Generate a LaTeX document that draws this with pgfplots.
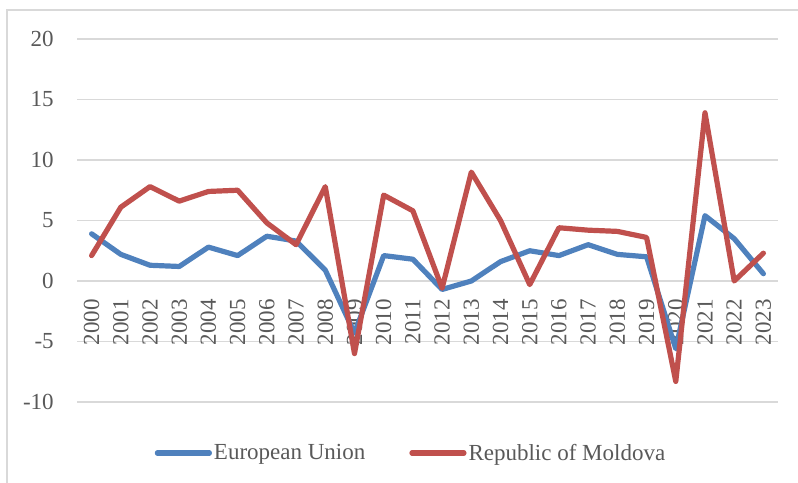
\documentclass[border=0pt]{standalone}
\usepackage{fontspec}
\setmainfont{Liberation Serif}
\usepackage{pgfplots}
\pgfplotsset{compat=1.18}
\definecolor{gridc}{HTML}{D9D9D9}
\definecolor{txt}{HTML}{595959}
\definecolor{eu}{HTML}{4F81BD}
\definecolor{md}{HTML}{C0504D}
\begin{document}
\begin{tikzpicture}[x=1bp,y=1bp]
\useasboundingbox (0,0) rectangle (798,483);
\draw[gridc, line width=1.2bp] (7,0) -- (7,473) -- (800,473);
\begin{axis}[
  at={(77bp,81bp)}, anchor=south west,
  scale only axis, width=701bp, height=363bp,
  xmin=-0.5, xmax=23.5, ymin=-10, ymax=20,
  axis x line=middle, axis y line=left,
  x axis line style={draw=gridc, line width=1.2bp, -},
  y axis line style={draw=none},
  xtick={0,...,23},
  xticklabels={2000,2001,2002,2003,2004,2005,2006,2007,2008,2009,2010,2011,2012,2013,2014,2015,2016,2017,2018,2019,2020,2021,2022,2023},
  xticklabel style={rotate=90, anchor=east, font=\fontsize{23bp}{27bp}\selectfont, text=txt, inner sep=0pt},
  xticklabel shift=16bp,
  major x tick style={draw=none},
  ytick={-10,-5,0,5,10,15,20},
  yticklabels={-10,-5,0,5,10,15,20},
  yticklabel style={font=\fontsize{23bp}{27bp}\selectfont, text=txt, inner sep=0pt, anchor=east},
  yticklabel shift=21bp,
  ymajorgrids, major grid style={gridc, line width=1.2bp},
  major y tick style={draw=none},
  clip=false,
  legend columns=2,
  legend style={at={(axis description cs:0.4765,0)}, anchor=center, yshift=-51bp, draw=none, fill=none,
    font=\fontsize{23bp}{27bp}\selectfont, text=txt,
    /tikz/every even column/.append style={column sep=42bp},
    nodes={inner sep=2bp}},
  legend image code/.code={\draw[#1] (0bp,0bp) -- (52bp,0bp);},
  every axis plot/.append style={line width=5.2bp, line cap=round, line join=round},
]
\addplot[eu] coordinates {
(0,3.9) (1,2.2) (2,1.3) (3,1.2) (4,2.8) (5,2.1) (6,3.7) (7,3.3) (8,0.9) (9,-4.3)
(10,2.1) (11,1.8) (12,-0.7) (13,0.0) (14,1.6) (15,2.5) (16,2.1) (17,3.0) (18,2.2) (19,2.0)
(20,-5.6) (21,5.4) (22,3.5) (23,0.6)};
\addlegendentry{European Union}
\addplot[md] coordinates {
(0,2.1) (1,6.1) (2,7.8) (3,6.6) (4,7.4) (5,7.5) (6,4.8) (7,3.0) (8,7.8) (9,-6.0)
(10,7.1) (11,5.8) (12,-0.6) (13,9.0) (14,5.0) (15,-0.3) (16,4.4) (17,4.2) (18,4.1) (19,3.6)
(20,-8.3) (21,13.9) (22,0.0) (23,2.3)};
\addlegendentry{Republic of Moldova}
\end{axis}
\end{tikzpicture}
\end{document}
